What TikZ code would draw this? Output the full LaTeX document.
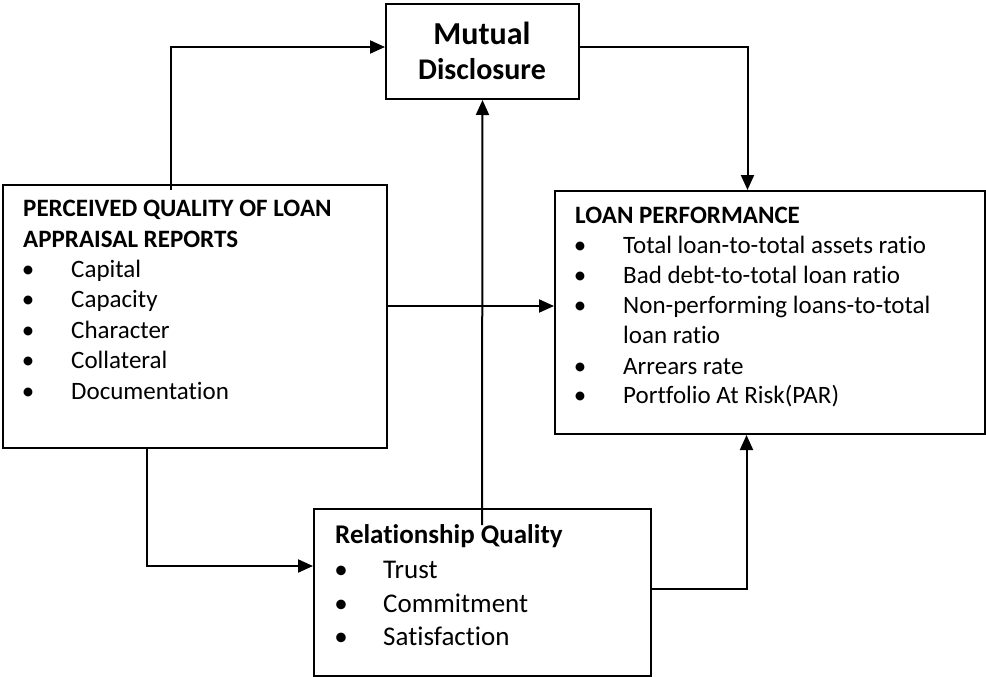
\documentclass[tikz,border=0pt]{standalone}
\usepackage{fontspec}
\setmainfont[Ligatures={NoCommon}]{Carlito}
\usetikzlibrary{arrows.meta}
\begin{document}
\begin{tikzpicture}[x=1pt,y=-1pt,
  box/.style={draw,line width=2pt,inner sep=0pt,anchor=north west},
  conn/.style={line width=2pt,-{Triangle[length=15pt,width=13pt]}},
  txt/.style={anchor=base west,inner sep=0pt,font=\fontsize{25}{29}\selectfont},
  ttl/.style={anchor=base west,inner sep=0pt,font=\fontsize{25}{29}\selectfont\bfseries},
  rtxt/.style={anchor=base west,inner sep=0pt,font=\fontsize{27}{31}\selectfont},
  rttl/.style={anchor=base west,inner sep=0pt,font=\fontsize{27}{31}\selectfont\bfseries},
  bul/.style={anchor=base,inner sep=0pt,font=\fontsize{25}{29}\selectfont},
  rbul/.style={anchor=base,inner sep=0pt,font=\fontsize{27}{31}\selectfont}]
\useasboundingbox (0,0) rectangle (986,677);
% boxes
\node[box,minimum width=193pt,minimum height=95pt] (md) at (385,3) {};
\node[box,minimum width=384pt,minimum height=263pt] (pq) at (2,184) {};
\node[box,minimum width=430pt,minimum height=243pt] (lp) at (554,190) {};
\node[box,minimum width=337pt,minimum height=167pt] (rq) at (313,508) {};
% Mutual Disclosure text
\node[anchor=base,inner sep=0pt,font=\fontsize{32}{36}\selectfont\bfseries] (mdt1) at (482,45) {Mutual};
\node[anchor=base,inner sep=0pt,font=\fontsize{30}{34}\selectfont\bfseries] (mdt2) at (482,80) {Disclosure};
% PQ text
\node[ttl] (pq1) at (23,216) {PERCEIVED QUALITY OF LOAN};
\node[ttl] (pq2) at (23,247) {APPRAISAL REPORTS};
\foreach \t [count=\i] in {Capital,Capacity,Character,Collateral,Documentation}{
  \node[bul] (pqb\i) at (28,{247+30.4*\i}) {\textbullet};
  \node[txt] (pqi\i) at (71,{247+30.4*\i}) {\t};
}
% LP text
\node[ttl] (lpt) at (575,223) {LOAN PERFORMANCE};
\node[bul] (lpb1) at (580,253) {\textbullet};
\node[txt] (lpi1) at (623,253) {Total loan-to-total assets ratio};
\node[bul] (lpb2) at (580,283) {\textbullet};
\node[txt] (lpi2) at (623,283) {Bad debt-to-total loan ratio};
\node[bul] (lpb3) at (580,313) {\textbullet};
\node[txt] (lpi3) at (623,313) {Non-performing loans-to-total};
\node[txt] (lpi3b) at (623,343) {loan ratio};
\node[bul] (lpb4) at (580,374) {\textbullet};
\node[txt] (lpi4) at (623,374) {Arrears rate};
\node[bul] (lpb5) at (580,403) {\textbullet};
\node[txt] (lpi5) at (623,403) {Portfolio At Risk(PAR)};
% RQ text
\node[rttl] (rqt) at (335,543) {Relationship Quality};
\node[rbul] (rqb1) at (341,578) {\textbullet};
\node[rtxt] (rqi1) at (383,578) {Trust};
\node[rbul] (rqb2) at (341,612) {\textbullet};
\node[rtxt] (rqi2) at (383,612) {Commitment};
\node[rbul] (rqb3) at (341,645) {\textbullet};
\node[rtxt] (rqi3) at (383,645) {Satisfaction};
% connectors
\coordinate (rqtop) at (482,525);
\draw[conn] ([xshift=-24pt,yshift=-6pt]pq.north) |- ([yshift=4.5pt]md.west);
\draw[conn] ([yshift=4.5pt]md.east) -| ([xshift=-22.5pt]lp.north);
\draw[conn] ([yshift=10.5pt]pq.east) coordinate (pqe) -- (pqe -| lp.west);
\draw[conn] (rqtop) -- (md.south);
\draw[conn] ([xshift=-48pt]pq.south) |- ([yshift=26.5pt]rq.west);
\draw[conn] ([yshift=3.5pt]rq.east) -| ([xshift=-23.5pt]lp.south);
\end{tikzpicture}
\end{document}
